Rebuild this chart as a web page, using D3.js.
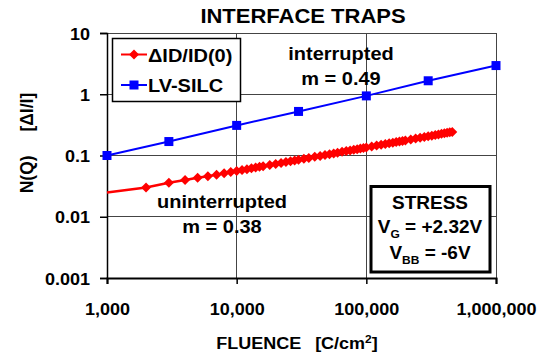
<!DOCTYPE html>
<html>
<head>
<meta charset="utf-8">
<script src="https://cdn.jsdelivr.net/npm/d3@7"></script>
<style>
  html, body { margin: 0; padding: 0; background: #fff; }
  svg text { font-family: "Liberation Sans", Arial, Helvetica, sans-serif; font-weight: bold; fill: #000; }
</style>
</head>
<body>
<svg id="chart" width="548" height="356"></svg>
<script>
// Axis ticks
const xTicks = [1000, 10000, 100000, 1000000];
const yTicks = [0.001, 0.01, 0.1, 1, 10];
const yTickLabels = ["0.001", "0.01", "0.1", "1", "10"];

// LV-SILC, interrupted stress
const silcFluence = [1000, 3000, 10000, 30000, 100000, 300000, 1000000];
const silcValue   = [0.100, 0.169, 0.310, 0.524, 0.940, 1.66, 2.94];

// ΔID/ID(0), uninterrupted stress
const idFluence = [1000, 2000, 3000, 4000, 5000, 6000, 7000, 8000, 9000, 10000,
  11000, 12000, 13000, 14000, 15000, 16000, 18000, 20000, 22000, 24000, 26000, 28000,
  30000, 33000, 36000, 40000, 44000, 48000, 52000, 56000, 60000, 65000, 70000, 75000,
  80000, 85000, 90000, 95000, 100000, 110000, 120000, 130000, 140000, 150000, 160000,
  170000, 180000, 190000, 200000, 220000, 240000, 260000, 280000, 300000, 320000,
  340000, 360000, 380000, 400000, 420000, 440000, 460000];
const idValue = [0.0249, 0.0301, 0.0358, 0.0398, 0.0434, 0.0459, 0.0487, 0.0513, 0.0536, 0.0560,
  0.0579, 0.0599, 0.0618, 0.0635, 0.0653, 0.0669, 0.0700, 0.0729, 0.0756, 0.0782, 0.0806, 0.0829,
  0.0851, 0.0883, 0.0913, 0.0951, 0.0986, 0.102, 0.105, 0.108, 0.111, 0.115, 0.118, 0.121,
  0.124, 0.127, 0.130, 0.133, 0.135, 0.140, 0.145, 0.150, 0.154, 0.158, 0.162,
  0.166, 0.169, 0.173, 0.176, 0.183, 0.189, 0.195, 0.201, 0.206, 0.211,
  0.216, 0.221, 0.226, 0.230, 0.235, 0.239, 0.243];

const SY = 0.92;  // slight vertical compression of the lettering
const svg = d3.select("#chart");

const x = d3.scaleLog().domain([1000, 1000000]).range([107, 496]);
const y = d3.scaleLog().domain([0.001, 10]).range([278, 33]);

// horizontal text helper
function txt(parent, s, tx, ty, size, anchor) {
  return parent.append("text")
    .attr("transform", `translate(${tx},${ty}) scale(1,${SY})`)
    .attr("text-anchor", anchor || "middle")
    .style("font-size", size + "px")
    .text(s);
}

// grid
const grid = svg.append("g").attr("stroke", "#444").attr("stroke-width", 1).attr("shape-rendering", "crispEdges");
xTicks.forEach(t => grid.append("line").attr("x1", x(t)).attr("x2", x(t)).attr("y1", y(10)).attr("y2", y(0.001)));
yTicks.forEach(t => grid.append("line").attr("x1", x(1000)).attr("x2", x(1e6)).attr("y1", y(t)).attr("y2", y(t)));

// axes
const xAxis = d3.axisBottom(x).tickValues(xTicks).tickFormat(d3.format(",")).tickSize(6).tickPadding(0);
const gx = svg.append("g").attr("transform", `translate(0,${y(0.001)})`).call(xAxis);
gx.select(".domain").attr("stroke", "#000").attr("stroke-width", 2);
gx.selectAll(".tick line").attr("stroke", "#000").attr("stroke-width", 1.5);
gx.selectAll(".tick text")
  .attr("y", null).attr("dy", null)
  .attr("transform", `translate(0,37) scale(1,${SY})`)
  .style("font-size", "18px").attr("fill", "#000");

const yAxis = d3.axisLeft(y).tickValues(yTicks).tickFormat((d, i) => yTickLabels[i]).tickSize(7).tickPadding(0);
const gy = svg.append("g").attr("transform", `translate(${x(1000)},0)`).call(yAxis);
gy.select(".domain").attr("stroke", "#000").attr("stroke-width", 1.5);
gy.selectAll(".tick line").attr("stroke", "#000").attr("stroke-width", 1.5);
gy.selectAll(".tick text")
  .attr("x", null).attr("dy", null)
  .attr("transform", `translate(-17,6) scale(1,${SY})`)
  .attr("text-anchor", "end")
  .style("font-size", "18px").attr("fill", "#000");

// series: ΔID/ID(0)
const idData = idFluence.map((f, i) => ({ f, v: idValue[i] }));
const line = d3.line().x(d => x(d.f)).y(d => y(d.v));
svg.append("path").datum(idData).attr("d", line)
  .attr("fill", "none").attr("stroke", "#ff0000").attr("stroke-width", 2.5);
const diamond = "M0,-5L5,0L0,5L-5,0Z";
svg.append("g").selectAll("path").data(idData.slice(1)).join("path")
  .attr("d", diamond).attr("transform", d => `translate(${x(d.f)},${y(d.v)})`)
  .attr("fill", "#ff0000");

// series: LV-SILC
const silcData = silcFluence.map((f, i) => ({ f, v: silcValue[i] }));
svg.append("path").datum(silcData).attr("d", line)
  .attr("fill", "none").attr("stroke", "#0000ff").attr("stroke-width", 2);
svg.append("g").selectAll("rect").data(silcData).join("rect")
  .attr("x", d => x(d.f) - 4.5).attr("y", d => y(d.v) - 4.5)
  .attr("width", 9).attr("height", 9).attr("fill", "#0000ff");

// title
txt(svg, "INTERFACE TRAPS", 303, 23, 22);

// axis titles
const xt = txt(svg, "", 297, 349, 18);
xt.append("tspan").text("FLUENCE");
xt.append("tspan").attr("dx", 14).text("[C/cm");
xt.append("tspan").attr("dy", -7).style("font-size", "12px").text("2");
xt.append("tspan").attr("dy", 7).text("]");

const yt = svg.append("text")
  .attr("transform", `translate(33,143) rotate(-90) scale(${SY},1)`)
  .attr("text-anchor", "middle").style("font-size", "19px");
yt.append("tspan").text("N(Q)");
yt.append("tspan").attr("dx", 26).text("[ΔI/I]");

// legend
const lg = svg.append("g");
lg.append("rect").attr("x", 112.5).attr("y", 38.5).attr("width", 128).attr("height", 63)
  .attr("fill", "#fff").attr("stroke", "#000").attr("stroke-width", 1.5);
lg.append("line").attr("x1", 121).attr("x2", 147).attr("y1", 54.5).attr("y2", 54.5)
  .attr("stroke", "#ff0000").attr("stroke-width", 2);
lg.append("path").attr("d", diamond).attr("transform", "translate(134,54.5)").attr("fill", "#ff0000");
txt(lg, "ΔID/ID(0)", 148, 62, 20, "start");
lg.append("line").attr("x1", 121).attr("x2", 147).attr("y1", 85).attr("y2", 85)
  .attr("stroke", "#0000ff").attr("stroke-width", 2);
lg.append("rect").attr("x", 129.5).attr("y", 80.5).attr("width", 9).attr("height", 9).attr("fill", "#0000ff");
txt(lg, "LV-SILC", 148, 92, 20, "start");

// annotations
txt(svg, "interrupted", 341, 60, 20);
txt(svg, "m = 0.49", 341, 85, 20);
txt(svg, "uninterrupted", 222, 208, 20);
txt(svg, "m = 0.38", 222, 233, 20);

// stress conditions box
const sb = svg.append("g");
sb.append("rect").attr("x", 371).attr("y", 186.5).attr("width", 119).attr("height", 85.5)
  .attr("fill", "#fff").attr("stroke", "#000").attr("stroke-width", 3);
txt(sb, "STRESS", 430, 209, 19);
const vg = txt(sb, "", 430, 233, 19);
vg.append("tspan").text("V");
vg.append("tspan").attr("dy", 5).style("font-size", "12px").text("G");
vg.append("tspan").attr("dy", -5).text(" = +2.32V");
const vb = txt(sb, "", 430, 259, 19);
vb.append("tspan").text("V");
vb.append("tspan").attr("dy", 5).style("font-size", "12px").text("BB");
vb.append("tspan").attr("dy", -5).text(" = -6V");
</script>
</body>
</html>
